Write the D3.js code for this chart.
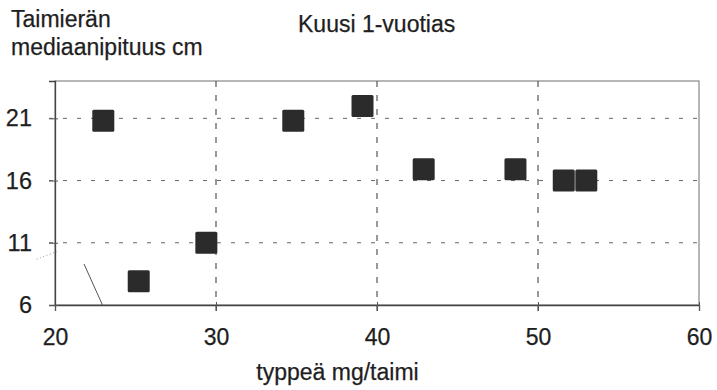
<!DOCTYPE html>
<html><head><meta charset="utf-8">
<script src="https://cdn.jsdelivr.net/npm/d3@7"></script>
<style>body{margin:0;background:#fff}svg{display:block}text{font-family:"Liberation Sans",Arial,sans-serif;fill:#1e1e1e;stroke:#1e1e1e;stroke-width:0.25px}</style>
</head><body><svg id="c" width="717" height="390"></svg>
<script>
const nitrogen = [23.0, 25.2, 29.4, 34.8, 39.1, 42.9, 48.6, 51.6, 53.0];
const heightCm = [20.8, 7.9, 11.0, 20.8, 22.0, 16.9, 16.9, 16.0, 16.0];
const xTicks = [20, 30, 40, 50, 60];
const yTicks = [6, 11, 16, 21];
const xGrid = [30, 40, 50];
const yGrid = [11, 16, 21];
// stray scan marks (data coords)
const strayX = [21.8, 22.95];
const strayY = [9.3, 6.0];
const dotX = [18.86, 20.12];
const dotY = [9.67, 10.3];

const svg = d3.select("#c");
const x = d3.scaleLinear().domain([20, 60]).range([55, 699]);
const y = d3.scaleLinear().domain([6, 24]).range([305, 81]);

// border
svg.append("rect").attr("x", x(20)).attr("y", y(24)).attr("width", x(60)-x(20)).attr("height", y(6)-y(24))
  .attr("fill", "none").attr("stroke", "#888").attr("stroke-width", 1.2);

// grid
svg.append("g").selectAll("line").data(yGrid).join("line")
  .attr("x1", x(20)-6).attr("x2", x(60)).attr("y1", d=>y(d)).attr("y2", d=>y(d))
  .attr("stroke", "#666").attr("stroke-width", 1).attr("stroke-dasharray", "4,10");
svg.append("g").selectAll("line").data(xGrid).join("line")
  .attr("x1", d=>x(d)).attr("x2", d=>x(d)).attr("y1", y(24)).attr("y2", y(6)+6)
  .attr("stroke", "#555").attr("stroke-width", 1.2).attr("stroke-dasharray", "6,8");

// axes
const xAxis = d3.axisBottom(x).tickValues(xTicks).tickSize(6).tickPadding(18);
const gx = svg.append("g").attr("transform", `translate(0,${y(6)})`).call(xAxis);
gx.select(".domain").attr("stroke", "#444").attr("stroke-width", 1.3);
gx.selectAll(".tick line").attr("stroke", "#555").attr("y1", -3);
gx.selectAll("text").style("font-size", "23px");

const yAxis = d3.axisLeft(y).tickValues(yTicks).tickSize(6).tickPadding(17);
const gy = svg.append("g").attr("transform", `translate(${x(20)},0)`).call(yAxis);
gy.select(".domain").attr("stroke", "#444").attr("stroke-width", 1.3);
gy.selectAll(".tick line").attr("stroke", "#555").attr("x1", 3);
gy.selectAll("text").style("font-size", "23.5px");

// stray marks
svg.append("line").attr("x1", x(strayX[0])).attr("y1", y(strayY[0])).attr("x2", x(strayX[1])).attr("y2", y(strayY[1]))
  .attr("stroke", "#555").attr("stroke-width", 1);
svg.append("line").attr("x1", x(dotX[0])).attr("y1", y(dotY[0])).attr("x2", x(dotX[1])).attr("y2", y(dotY[1]))
  .attr("stroke", "#999").attr("stroke-width", 1).attr("stroke-dasharray", "1,2.5");

// points
const s = 22;
svg.append("g").selectAll("rect").data(nitrogen).join("rect")
  .attr("x", (d)=>x(d)-s/2).attr("y", (d,i)=>y(heightCm[i])-s/2)
  .attr("width", s).attr("height", s).attr("rx", 1.5)
  .attr("fill", "#2b2b2b");

// titles
svg.append("text").attr("x", 11).attr("y", 27).style("font-size", "23px").text("Taimierän");
svg.append("text").attr("x", 11).attr("y", 55).style("font-size", "23px").text("mediaanipituus cm");
svg.append("text").attr("x", 298).attr("y", 32).style("font-size", "23px").text("Kuusi 1-vuotias");
svg.append("text").attr("x", 337.5).attr("y", 380).attr("text-anchor", "middle").style("font-size", "23px").text("typpeä mg/taimi");
</script></body></html>
